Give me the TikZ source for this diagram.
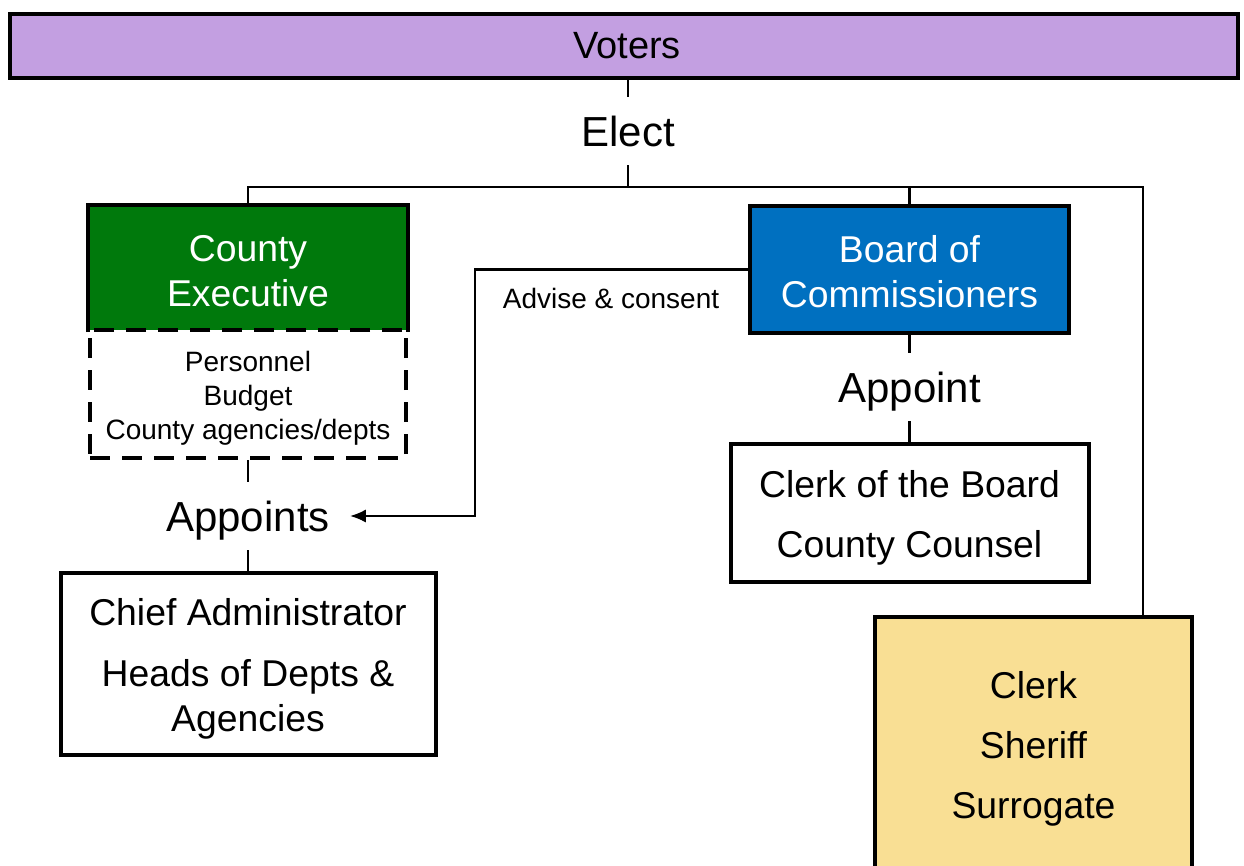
\documentclass[tikz,border=0pt]{standalone}
\usepackage{fontspec}
\setmainfont{Liberation Sans}
\usetikzlibrary{arrows.meta}
\definecolor{votc}{HTML}{C39FE1}
\definecolor{exc}{HTML}{00790C}
\definecolor{brdc}{HTML}{0070C0}
\definecolor{yelc}{HTML}{F9DF94}
\newcommand{\upstrut}[1]{\rule{0pt}{#1}}
\begin{document}
\begin{tikzpicture}[x=0.75pt,y=-0.75pt,
  box/.style={draw=black, line width=3pt, inner sep=0pt, align=center, font=\fontsize{28}{33.75}\selectfont},
  small/.style={align=center, inner sep=0pt, font=\fontsize{21}{25.5}\selectfont},
  lbl/.style={inner xsep=15pt, inner ysep=0pt, text height=22.5pt, text depth=0pt, minimum height=51pt, font=\fontsize{31.5}{36}\selectfont},
  conn/.style={line width=1.6pt},
  dashbox/.style={draw=black, line width=3pt, dash pattern=on 15pt off 9pt, inner sep=0pt, align=center, font=\fontsize{21}{25.5}\selectfont}
]
\clip (0,0) rectangle (1244,865);
\fill[white] (0,0) rectangle (1244,865);

% boxes
\node[box, fill=votc, minimum width=921pt, minimum height=48pt, font=\fontsize{28.5}{33.75}\selectfont] (voters) at (624,46) {\hspace*{4.5pt}Voters};
\node[box, draw=none, fill=exc, text=white, minimum width=237pt, minimum height=92.25pt] (exec) at (248,268.5) {\upstrut{23.5pt}County\\Executive};
\draw[line width=3pt] (exec.south west) -- (exec.north west) -- (exec.north east) -- (exec.south east);
\node[dashbox, minimum width=237pt, minimum height=96pt] (duties) at (248,394) {\upstrut{22pt}Personnel\\Budget\\County agencies/depts};
\node[box, minimum width=281.25pt, minimum height=136.5pt] (chief) at (248,664) {\upstrut{27pt}Chief Administrator\\[12pt]Heads of Depts \&\\Agencies};
\node[box, fill=brdc, text=white, minimum width=239.25pt, minimum height=95.25pt] (board) at (909.5,269.5) {\upstrut{24pt}Board of\\Commissioners};
\node[box, minimum width=268.5pt, minimum height=103.5pt] (clerkb) at (909.5,513) {\upstrut{27pt}Clerk of the Board\\[11.25pt]County Counsel};
\node[box, fill=yelc, minimum width=237.75pt, minimum height=190.5pt] (elected) at (1033.5,744) {\upstrut{27pt}Clerk\\[11.25pt]Sheriff\\[11.25pt]Surrogate};

% labels
\node[lbl] (elect) at (628,131) {Elect};
\node[lbl] (appoints) at (248,516) {Appoints};
\node[lbl] (appoint) at (909.5,387) {Appoint};
\node[small] (advise) at (611,298) {Advise \& consent};

% connectors
\coordinate (bus) at (628,187);
\coordinate (ytop) at (1143,617);
\draw[conn] (voters.south -| elect.north) -- (elect.north);
\draw[conn] (elect.south) -- (bus);
\draw[conn] (exec.north) |- (bus);
\draw[conn] (board.north) |- (bus);
\draw[conn] (ytop) |- (bus);
\draw[conn] (duties.south) -- (appoints.north);
\draw[conn] (appoints.south) -- (chief.north);
\draw[conn] (board.south) -- (appoint.north);
\draw[conn] (appoint.south) -- (clerkb.north);
\draw[conn, -{Latex[length=12pt,width=10pt]}] (board.west) -- ++(-273,0) |- (appoints.east);
\end{tikzpicture}
\end{document}
